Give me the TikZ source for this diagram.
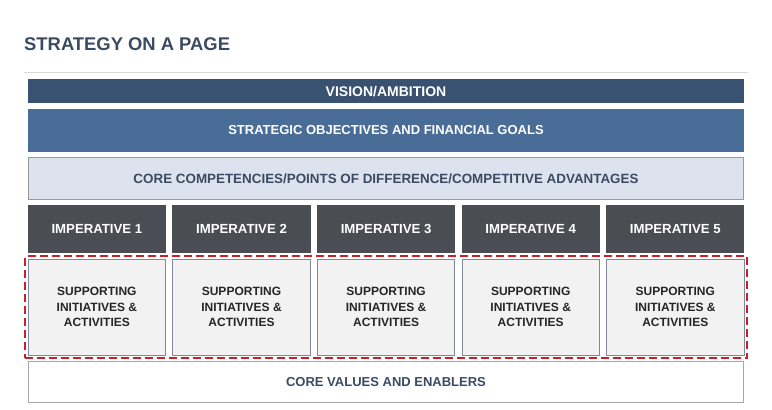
\documentclass[tikz,border=0pt]{standalone}
\usepackage{fontspec}
\setmainfont{Liberation Sans}
\usetikzlibrary{positioning,fit}

\definecolor{navy}{HTML}{3A5272}
\definecolor{steel}{HTML}{4A6D98}
\definecolor{paleblue}{HTML}{DCE3EE}
\definecolor{slate}{HTML}{3B4A63}
\definecolor{charcoal}{HTML}{4A4D54}
\definecolor{lightgrey}{HTML}{F2F2F2}
\definecolor{rulegrey}{HTML}{D9D9D9}
\definecolor{dashred}{HTML}{C8202A}

\begin{document}
\begin{tikzpicture}[x=1pt,y=-1pt,
    bar/.style={minimum width=716.6pt,inner sep=0pt,font=\bfseries\fontsize{13}{15}\selectfont},
    imp/.style={fill=charcoal,text=white,minimum width=138.3pt,minimum height=48.3pt,inner sep=0pt,font=\bfseries\fontsize{13.2}{15}\selectfont},
    support/.style={fill=lightgrey,draw=slate!65,line width=0.9pt,minimum width=137.3pt,minimum height=95.7pt,inner sep=0pt,align=center,text=black!85,font=\bfseries\fontsize{12}{15.5}\selectfont}]
    \useasboundingbox (0,0) rectangle (772,410);

    \node[anchor=base west,inner sep=0pt,text=slate,font=\bfseries\fontsize{18.4}{22}\selectfont] (title) at (24,50.7) {STRATEGY ON A PAGE};
    \coordinate (ruleL) at (24,72.5);
    \coordinate (ruleR) at (748,72.5);
    \draw[rulegrey,line width=1.3pt] (ruleL) -- (ruleR);

    \node[bar,fill=navy,text=white,minimum height=24pt,font=\bfseries\fontsize{14}{15}\selectfont] (vision) at (386,91.3) {VISION/AMBITION};
    \node[bar,fill=steel,text=white,minimum height=43pt] (goals) at (386,130.2) {STRATEGIC OBJECTIVES AND FINANCIAL GOALS};
    \node[bar,fill=paleblue,draw=gray!80,line width=1.1pt,text=slate,minimum width=715.5pt,minimum height=42.2pt,font=\bfseries\fontsize{13.4}{15}\selectfont] (core) at (386,178.3) {CORE COMPETENCIES/POINTS OF DIFFERENCE/COMPETITIVE ADVANTAGES};

    \foreach \i in {1,...,5} {
        \node[imp] (imp\i) at ({96.9+144.6*(\i-1)},229.2) {IMPERATIVE \i};
        \node[support] (sup\i) at ({96.9+144.6*(\i-1)},307.3) {SUPPORTING\\INITIATIVES \&\\ACTIVITIES};
    }

    \node[draw=dashred,line width=2pt,dash pattern=on 8pt off 4pt,inner sep=2.8pt,fit=(sup1)(sup5)] (focus) {};

    \node[bar,fill=white,draw=gray!70,line width=1.2pt,text=slate,minimum width=715.5pt,minimum height=41.2pt] (values) at (386,382.2) {CORE VALUES AND ENABLERS};
\end{tikzpicture}
\end{document}
